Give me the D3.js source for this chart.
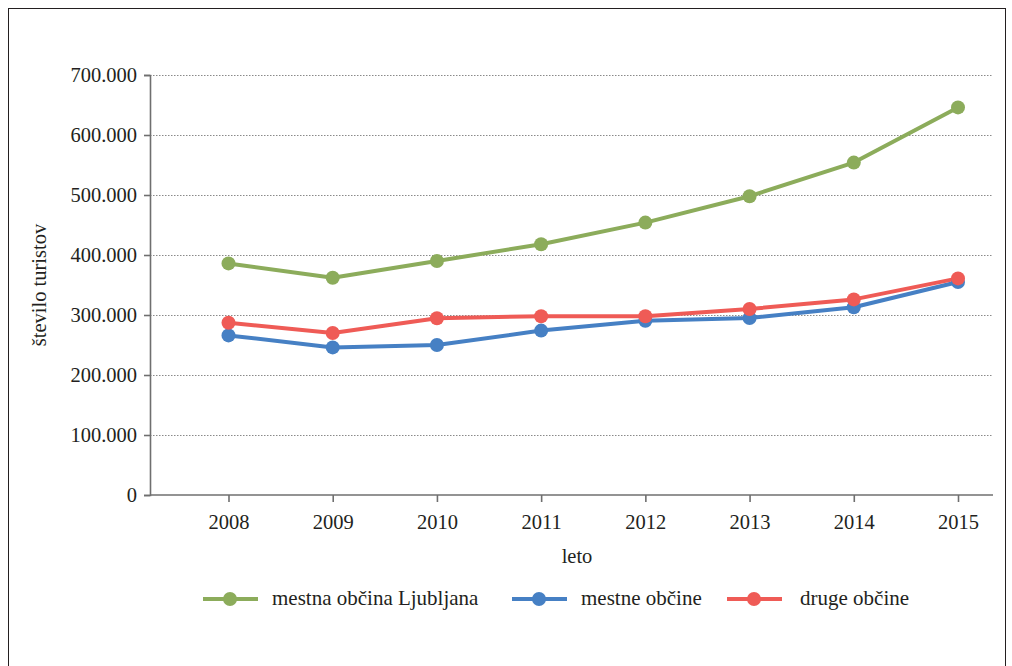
<!DOCTYPE html>
<html>
<head>
<meta charset="utf-8">
<script src="https://cdn.jsdelivr.net/npm/d3@7"></script>
<style>
  html, body { margin: 0; padding: 0; background: #fff; }
  svg { display: block; }
  text { font-family: "Liberation Serif", "DejaVu Serif", serif; fill: #231f20; }
</style>
</head>
<body>
<svg id="chart" width="1012" height="666"></svg>
<script>
// Tourist arrivals per year
const years = ["2008", "2009", "2010", "2011", "2012", "2013", "2014", "2015"];
const ljubljana = [386000, 362000, 390000, 418000, 454000, 498000, 554000, 646000];
const mestneObcine = [266000, 246000, 250000, 274000, 290500, 295000, 313000, 355000];
const drugeObcine = [287000, 270000, 294500, 298000, 298000, 310000, 326000, 361000];
const yTicks = [0, 100000, 200000, 300000, 400000, 500000, 600000, 700000];
const seriesNames = ["mestna občina Ljubljana", "mestne občine", "druge občine"];
const seriesColors = ["#8cac5b", "#4680c4", "#ef5b56"];

const series = [
  { name: seriesNames[0], values: ljubljana, color: seriesColors[0] },
  { name: seriesNames[1], values: mestneObcine, color: seriesColors[1] },
  { name: seriesNames[2], values: drugeObcine, color: seriesColors[2] }
];

const svg = d3.select("#chart");

// outer frame
svg.append("rect")
  .attr("x", 8.5).attr("y", 8.5)
  .attr("width", 997).attr("height", 700)
  .attr("fill", "none").attr("stroke", "#231f20").attr("stroke-width", 1);

const plot = { left: 150, right: 993, top: 75, bottom: 495 };
const fontSize = 20.5;

const x = d3.scalePoint()
  .domain(years)
  .range([228.5, 958]);

const y = d3.scaleLinear()
  .domain([0, 700000])
  .range([plot.bottom, plot.top]);

const fmt = v => v === 0 ? "0" : d3.format(",")(v).replace(/,/g, ".");

// gridlines
svg.append("g")
  .selectAll("line")
  .data(yTicks.filter(d => d > 0))
  .join("line")
  .attr("x1", plot.left).attr("x2", plot.right)
  .attr("y1", d => y(d) + 0.5).attr("y2", d => y(d) + 0.5)
  .attr("stroke", "#8a8a8a")
  .attr("stroke-width", 1)
  .attr("stroke-dasharray", "1.5,1.5");

// y axis
const yAxis = svg.append("g")
  .attr("transform", `translate(${plot.left},0)`)
  .call(d3.axisLeft(y).tickValues(yTicks).tickFormat(fmt).tickSize(6).tickPadding(7));
yAxis.select(".domain").attr("stroke", "#6f6f6f").attr("stroke-width", 1.6);
yAxis.selectAll(".tick line").attr("stroke", "#6f6f6f").attr("stroke-width", 1.6);
yAxis.selectAll(".tick text")
  .attr("font-size", fontSize)
  .attr("font-family", "Liberation Serif, serif")
  .attr("fill", "#231f20");

// x axis
const xAxis = svg.append("g")
  .attr("transform", `translate(0,${plot.bottom})`)
  .call(d3.axisBottom(x).tickSize(7).tickPadding(12));
xAxis.select(".domain")
  .attr("d", `M${plot.left},0H${plot.right}`)
  .attr("stroke", "#6f6f6f").attr("stroke-width", 1.6);
xAxis.selectAll(".tick line").attr("stroke", "#6f6f6f").attr("stroke-width", 1.6);
xAxis.selectAll(".tick text")
  .attr("font-size", fontSize)
  .attr("font-family", "Liberation Serif, serif")
  .attr("fill", "#231f20");

// axis titles
svg.append("text")
  .attr("transform", `translate(46,${(plot.top + plot.bottom) / 2 }) rotate(-90)`)
  .attr("text-anchor", "middle")
  .attr("font-size", fontSize)
  .text("število turistov");

svg.append("text")
  .attr("x", 577).attr("y", 563)
  .attr("text-anchor", "middle")
  .attr("font-size", fontSize)
  .text("leto");

// series lines and markers
const line = d3.line()
  .x((d, i) => x(years[i]))
  .y(d => y(d));

const g = svg.append("g");
series.forEach(s => {
  g.append("path")
    .datum(s.values)
    .attr("d", line)
    .attr("fill", "none")
    .attr("stroke", s.color)
    .attr("stroke-width", 4)
    .attr("stroke-linejoin", "round");
});
series.forEach(s => {
  g.selectAll(null)
    .data(s.values)
    .join("circle")
    .attr("cx", (d, i) => x(years[i]))
    .attr("cy", d => y(d))
    .attr("r", 7)
    .attr("fill", s.color);
});

// legend
const legendX = [203, 512, 727];
const legend = svg.append("g");
series.forEach((s, i) => {
  const lg = legend.append("g").attr("transform", `translate(${legendX[i]},599)`);
  lg.append("line")
    .attr("x1", 0).attr("x2", 55).attr("y1", 0).attr("y2", 0)
    .attr("stroke", s.color).attr("stroke-width", 4);
  lg.append("circle").attr("cx", 27).attr("cy", 0).attr("r", 7).attr("fill", s.color);
  lg.append("text")
    .attr("x", i === 2 ? 73 : 69).attr("y", 6)
    .attr("font-size", 21)
    .text(s.name);
});
</script>
</body>
</html>
